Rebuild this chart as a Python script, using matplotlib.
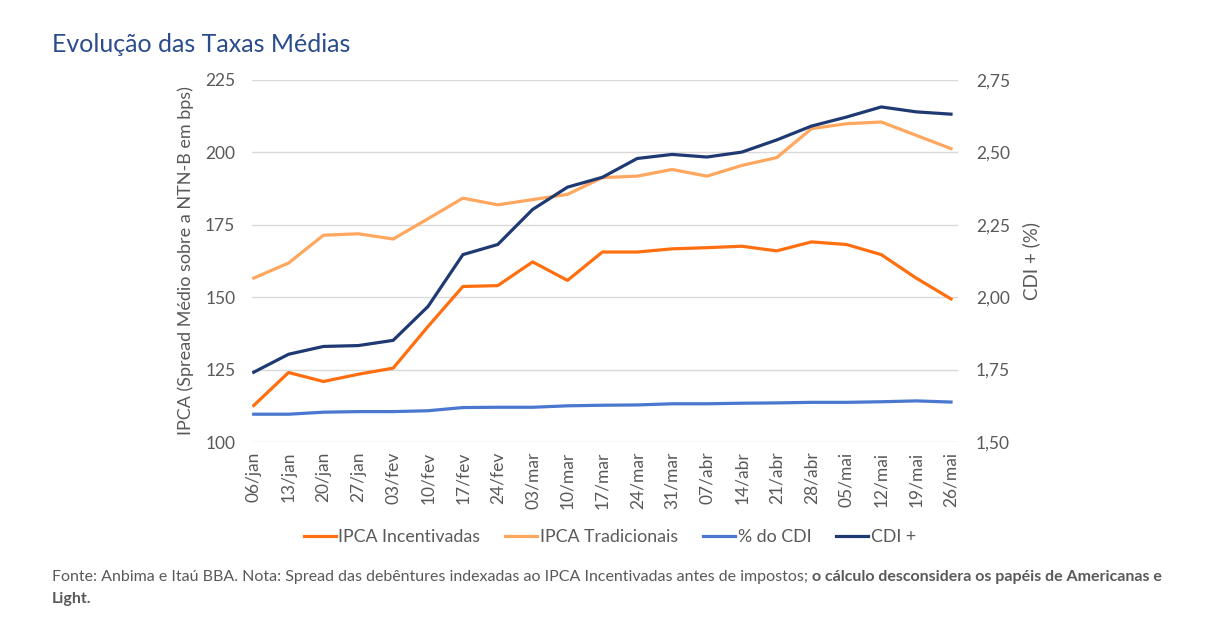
import matplotlib
matplotlib.use("Agg")
import matplotlib.pyplot as plt
from matplotlib.ticker import FuncFormatter

plt.rcParams['font.family'] = ['Lato', 'DejaVu Sans']

# datas semanais
datas = ["06/jan", "13/jan", "20/jan", "27/jan", "03/fev", "10/fev", "17/fev",
         "24/fev", "03/mar", "10/mar", "17/mar", "24/mar", "31/mar", "07/abr",
         "14/abr", "21/abr", "28/abr", "05/mai", "12/mai", "19/mai", "26/mai"]

# eixo esquerdo (bps)
ipca_incentivadas = [112.6, 124.0, 120.9, 123.4, 125.5, 139.9, 153.7, 154.0,
                     162.2, 155.8, 165.6, 165.6, 166.7, 167.1, 167.6, 166.0,
                     169.1, 168.2, 164.7, 156.6, 149.4]
ipca_tradicionais = [156.6, 161.8, 171.4, 171.9, 170.1, 177.1, 184.2, 181.9,
                     183.7, 185.5, 191.3, 191.8, 194.1, 191.8, 195.5, 198.2,
                     208.2, 209.9, 210.5, 205.9, 201.3]
pct_cdi = [109.6, 109.6, 110.3, 110.5, 110.5, 110.8, 111.9, 112.0, 112.0,
           112.5, 112.7, 112.8, 113.2, 113.2, 113.4, 113.5, 113.7, 113.7,
           113.9, 114.2, 113.8]

# eixo direito (%)
cdi_mais = [1.741, 1.803, 1.830, 1.833, 1.851, 1.968, 2.147, 2.182, 2.303,
            2.380, 2.414, 2.479, 2.493, 2.484, 2.501, 2.543, 2.591, 2.622,
            2.657, 2.640, 2.632]

cinza = "#595959"
x = list(range(len(datas)))

fig = plt.figure(figsize=(12.32, 6.42), dpi=100)
ax = fig.add_axes([0.2045, 0.3115, 0.5731, 0.5639])
ax2 = ax.twinx()

l1, = ax.plot(x, ipca_incentivadas, color="#FF6F0F", lw=2.3, label="IPCA Incentivadas")
l2, = ax.plot(x, ipca_tradicionais, color="#FFA75E", lw=2.3, label="IPCA Tradicionais")
l3, = ax.plot(x, pct_cdi, color="#4A78D0", lw=2.3, label="% do CDI")
l4, = ax2.plot(x, cdi_mais, color="#1F3A73", lw=2.3, label="CDI +")

ax.set_ylim(100, 225)
ax.set_yticks([100, 125, 150, 175, 200, 225])
ax2.set_ylim(1.5, 2.75)
ax2.set_yticks([1.5, 1.75, 2.0, 2.25, 2.5, 2.75])
ax2.yaxis.set_major_formatter(FuncFormatter(lambda v, p: f"{v:.2f}".replace(".", ",")))
ax.set_xlim(-0.05, 20.2)
ax.set_xticks(x)
ax.set_xticklabels(datas, rotation=90)

ax.grid(axis="y", color="#D9D9D9", lw=1)
ax.set_axisbelow(True)
for a in (ax, ax2):
    for s in a.spines.values():
        s.set_visible(False)
    a.tick_params(length=0, colors=cinza, labelsize=12.5)
ax.tick_params(axis="x", labelsize=12.5, pad=7)
ax.tick_params(axis="y", pad=12)
ax2.tick_params(axis="y", pad=13)

ax.set_ylabel("IPCA (Spread Médio sobre a NTN-B em bps)", color=cinza, fontsize=13, labelpad=8)
ax2.set_ylabel("CDI + (%)", color=cinza, fontsize=13.5, labelpad=9)

fig.text(52 / 1232, 1 - 45 / 642, "Evolução das Taxas Médias", color="#2B4C8C",
         fontsize=18, va="center", ha="left")

fig.legend(handles=[l1, l2, l3, l4], loc="center", bbox_to_anchor=(0.495, 1 - 537 / 642),
           ncol=4, frameon=False, fontsize=12.8, labelcolor=cinza,
           handlelength=1.8, handletextpad=0.15, columnspacing=1.4)

# nota de rodapé com trecho em negrito
nota_cor = "#595959"
y1 = 1 - 577 / 642
y2 = 1 - 599 / 642
t1 = fig.text(52 / 1232, y1, "Fonte: Anbima e Itaú BBA. Nota: Spread das debêntures indexadas ao "
              "IPCA Incentivadas antes de impostos; ", color=nota_cor, fontsize=11.5, va="center")
fig.canvas.draw()
bb = t1.get_window_extent()
fig.text(bb.x1 / fig.bbox.width, y1, "o cálculo desconsidera os papéis de Americanas e",
         color=nota_cor, fontsize=11.5, fontweight="bold", va="center")
fig.text(52 / 1232, y2, "Light.", color=nota_cor, fontsize=11.5, fontweight="bold", va="center")

fig.savefig("out.png", dpi=100, facecolor="white")
